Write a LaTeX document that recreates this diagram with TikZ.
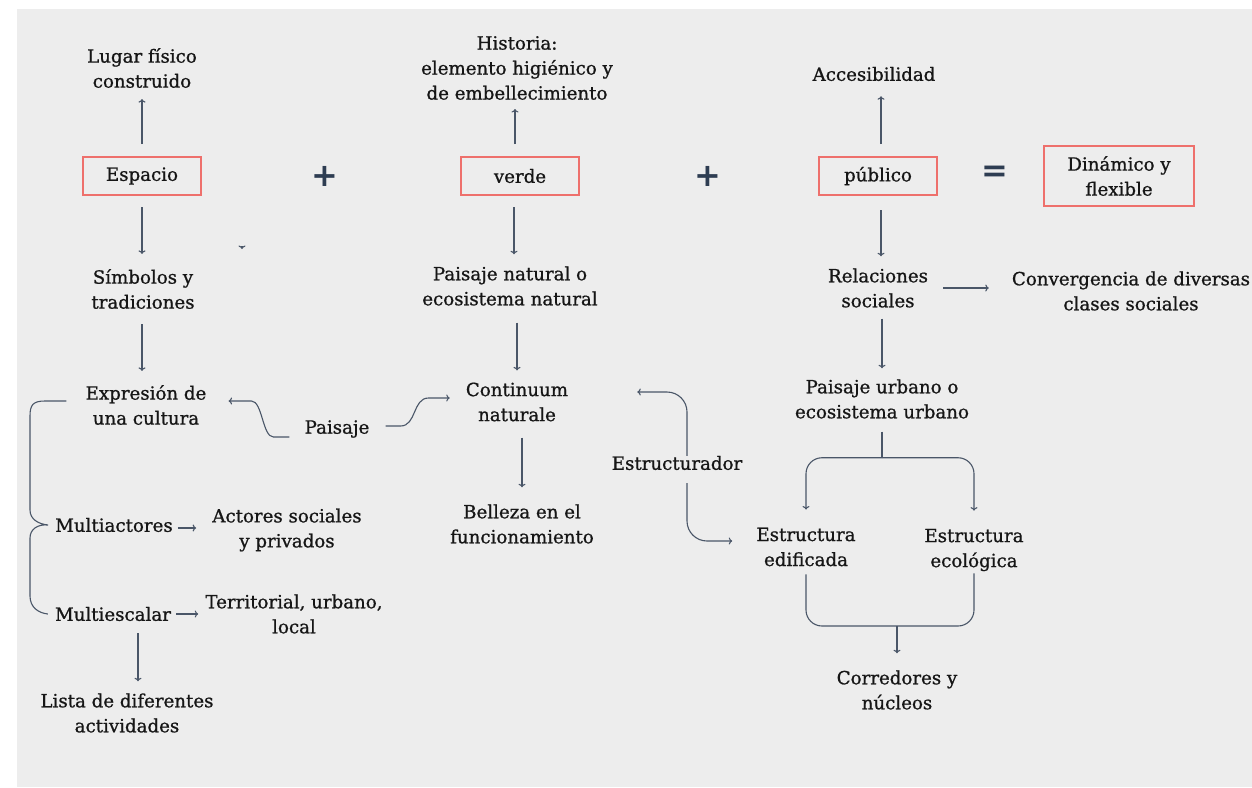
\documentclass[tikz,border=0pt]{standalone}
\usepackage{fontspec}
\setmainfont{DejaVu Serif}[FakeBold=0.9]
\newfontfamily\signfont{DejaVu Sans}
\usetikzlibrary{arrows.meta}
\definecolor{bgray}{HTML}{EDEDED}
\definecolor{slate}{HTML}{4A5668}
\definecolor{boxred}{HTML}{EE706C}
\definecolor{ink}{HTML}{161616}
\definecolor{signcol}{HTML}{2E3D52}

\begin{document}
\begin{tikzpicture}[x=1pt,y=-1pt,
  lbl/.style={font=\fontsize{18.2}{25}\selectfont, text=ink, align=center, inner sep=0pt},
  key/.style={lbl, draw=boxred, line width=2pt, minimum width=118pt, minimum height=38pt},
  sign/.style={font=\signfont\bfseries\fontsize{32}{32}\selectfont, text=signcol, inner sep=0pt},
  wire/.style={draw=slate, line width=1.1pt},
  link/.style={wire, -{To[length=3.5pt,width=7pt]}}]
\useasboundingbox (0,0) rectangle (1252,787);
\fill[bgray] (17,9) rectangle (1252,787);
% Espacio column
\node[lbl] (lugar) at (142,68) {Lugar físico\\construido};
\node[key] (esp) at (142,176) {Espacio};
\node[lbl] (simb) at (143,289) {Símbolos y\\tradiciones};
\node[lbl] (expr) at (146,405) {Expresión de\\una cultura};
\node[lbl] (pais) at (337,429) {Paisaje};
\node[lbl] (macts) at (114,525) {Multiactores};
\node[lbl] (acts) at (287,530) {Actores sociales\\y privados};
\node[lbl] (mesc) at (113,614) {Multiescalar};
\node[lbl] (terr) at (294,614) {Territorial, urbano,\\local};
\node[lbl] (lista) at (127,713) {Lista de diferentes\\actividades};
% verde column
\node[sign] (plus1) at (325,176) {+};
\node[lbl] (hist) at (517,68) {Historia:\\elemento higiénico y\\de embellecimiento};
\node[key] (verde) at (520,176) {verde};
\node[lbl] (pnat) at (510,286) {Paisaje natural o\\ecosistema natural};
\node[lbl] (cont) at (517,402) {Continuum\\naturale};
\node[lbl] (bell) at (522,524) {Belleza en el\\funcionamiento};
\node[lbl] (estr) at (677,463) {Estructurador};
% publico column
\node[sign] (plus2) at (708,176) {+};
\node[lbl] (acc) at (874,74) {Accesibilidad};
\node[key] (pub) at (878,176) {público};
\node[sign] (eq) at (995,174) {=};
\node[key, minimum width=150pt, minimum height=60pt] (din) at (1119,176) {Dinámico y\\flexible};
\node[lbl] (rel) at (878,288) {Relaciones\\sociales};
\node[lbl] (conv) at (1131,291) {Convergencia de diversas\\clases sociales};
\node[lbl] (purb) at (882,399) {Paisaje urbano o\\ecosistema urbano};
\node[lbl] (edif) at (806,547) {Estructura\\edificada};
\node[lbl] (ecol) at (974,550) {Estructura\\ecológica};
\node[lbl] (corr) at (897,690) {Corredores y\\núcleos};

% Straight arrows
\draw[link, shorten <=12pt, shorten >=11pt] (esp.north) -- (esp.north |- lugar.south);
\draw[link, shorten <=11pt, shorten >=15pt] (esp.south) -- (esp.south |- simb.north);
\draw[link, shorten <=15pt, shorten >=14pt] (esp.south |- simb.south) -- (esp.south |- expr.north);
\draw[link, shorten <=12pt, shorten >=9pt] ([xshift=-5pt]verde.north) -- ([xshift=-5pt]verde.north |- hist.south);
\draw[link, shorten <=11pt, shorten >=12pt] ([xshift=-6pt]verde.south) -- ([xshift=-6pt]verde.south |- pnat.north);
\draw[link, shorten <=17pt, shorten >=12pt] (cont.center |- pnat.south) -- (cont.north);
\draw[link, shorten <=16pt, shorten >=17pt] (bell.center |- cont.south) -- (bell.north);
\draw[link, shorten <=12pt, shorten >=15pt] ([xshift=3pt]pub.north) -- ([xshift=3pt]pub.north |- acc.south);
\draw[link, shorten <=14pt, shorten >=12pt] ([xshift=3pt]pub.south) -- ([xshift=3pt]pub.south |- rel.north);
\draw[link, shorten <=15pt, shorten >=23pt] (rel.east) -- (rel.east -| conv.west);
\draw[link, shorten <=11pt, shorten >=11pt] (purb.center |- rel.south) -- (purb.north);
\coordinate (stray) at (242,246);
\draw[link] (stray) -- ++(0,3);

% Fork and merge
\draw[wire, shorten <=13pt] (purb.south) -- ++(0,39) coordinate (fork);
\draw[link, rounded corners=16pt, shorten >=18pt] (fork) -| (edif.north);
\draw[link, rounded corners=16pt, shorten >=18pt] (fork) -| (ecol.north);
\coordinate (join) at (897,626);
\draw[wire, rounded corners=16pt, shorten <=8pt, shorten >=2pt] (edif.south) |- (join) -| (ecol.south);
\draw[link, shorten >=17pt] (join) -- (join |- corr.north);

% Estructurador
\draw[link, rounded corners=20pt, shorten >=69pt] ([xshift=10pt]estr.north) |- ([yshift=10pt]cont.east);
\draw[link, rounded corners=20pt, shorten <=13pt, shorten >=24pt] ([xshift=10pt]estr.south) |- ([yshift=6pt]edif.west);

% Paisaje curves
\draw[link] ([xshift=-15pt,yshift=-8pt]pais.west) -- ++(-16,0) .. controls +(-11,0) and +(11,0) .. ++(-22,-36) -- ([xshift=22pt,yshift=4pt]expr.east);
\draw[link] ([xshift=16pt,yshift=3pt]pais.east) -- ++(15,0) .. controls +(16,0) and +(-16,0) .. ++(28,-28) -- ([xshift=-16pt,yshift=4pt]cont.west);

% Brace
\draw[wire] ([xshift=-19pt,yshift=4pt]expr.west) -- (45,401) .. controls (33,401) and (30,405) .. (30,416) -- (30,510)
  .. controls (30,519) and (38,524) .. ([xshift=-7pt]macts.west) .. controls (38,524) and (30,529) .. (30,538)
  -- (30,596) .. controls (30,607) and (38,613) .. ([xshift=-7pt]mesc.west);
\draw[link, shorten <=5pt, shorten >=16pt] ([yshift=-3pt]macts.east) -- ([yshift=-3pt]macts.east -| acts.west);
\draw[link, shorten <=5pt, shorten >=7pt] (mesc.east) -- (mesc.east -| terr.west);
\draw[link, shorten <=12pt, shorten >=12pt] ([xshift=25pt]mesc.south) -- ([xshift=25pt]mesc.south |- lista.north);
\end{tikzpicture}
\end{document}
